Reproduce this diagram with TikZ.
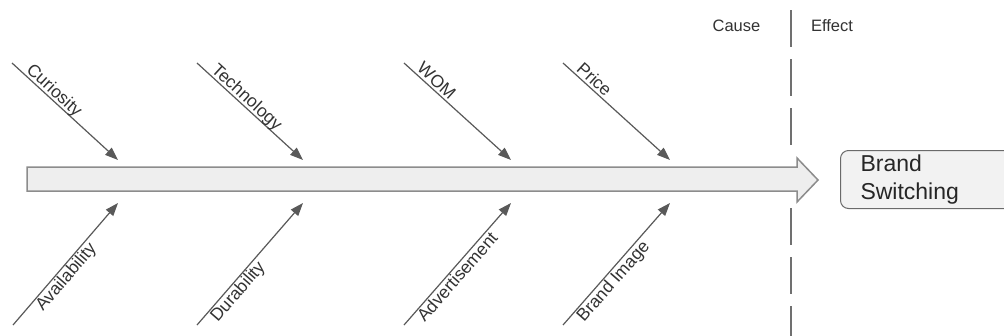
\documentclass[tikz,border=0pt]{standalone}
\usepackage{fontspec}
\setmainfont{Liberation Sans}
\usetikzlibrary{arrows.meta}
\definecolor{linegray}{HTML}{595959}
\definecolor{textgray}{HTML}{333333}
\definecolor{bodyfill}{HTML}{EEEEEE}
\definecolor{boxfill}{HTML}{F2F2F2}
\definecolor{bodyline}{HTML}{8C8C8C}
\definecolor{boxline}{HTML}{6A6A6A}
\definecolor{dashgray}{HTML}{707070}
\newcommand{\uplift}[1]{\raisebox{3pt}{#1}}
\begin{document}
\begin{tikzpicture}[x=1pt,y=-1pt,
  bone/.style={draw=linegray, line width=1.2pt, -{Triangle[length=13pt,width=9.5pt,fill=linegray]}},
  uplabel/.style={sloped, anchor=base west, inner sep=0pt, font=\fontsize{17.5}{20}\selectfont, text=textgray},
  lowlabel/.style={sloped, anchor=north west, inner sep=1pt, font=\fontsize{17.5}{20}\selectfont, text=textgray},
  sidelabel/.style={font=\fontsize{16.5}{19}\selectfont, text=textgray, inner sep=0pt},
  effectbox/.style={draw=boxline, line width=1pt, fill=boxfill, rounded corners=8pt,
    align=left, text width=160pt, inner xsep=20pt, inner ysep=0pt, minimum height=58pt,
    font=\fontsize{23}{28}\selectfont, text=black!85, anchor=north west},
  divider/.style={draw=dashgray, line width=1.3pt, dash pattern=on 37pt off 12pt}
]
\useasboundingbox (0,0) rectangle (1004,335);
\fill[white] (0,0) rectangle (1004,335);

% divider (interrupted around the spine)
\coordinate (dtop) at (791,10);
\coordinate (dmid1) at (791,146);
\coordinate (dmid2) at (791,208);
\coordinate (dbot) at (791,345);
\draw[divider] (dtop) -- (dmid1);
\draw[divider] (dmid2) -- (dbot);

% spine arrow
\draw[draw=bodyline, fill=bodyfill, line width=1.5pt, line join=miter]
  (27,167) -- (797,167) -- (797,158) -- (818,180) -- (797,202) -- (797,191) -- (27,191) -- cycle;

% effect box
\node[effectbox] (effect) at (840,150) {Brand\\Switching};

% cause / effect labels
\node[sidelabel] (cause) at (736.5,26) {Cause};
\node[sidelabel] (effl) at (832,26) {Effect};

% upper bones
\coordinate (us1) at (12,63);  \coordinate (ut1) at (118,160);
\coordinate (us2) at (197,63); \coordinate (ut2) at (303,160);
\coordinate (us3) at (404,63); \coordinate (ut3) at (511,160);
\coordinate (us4) at (563,63); \coordinate (ut4) at (670,160);
\draw[bone] (us1) -- node[uplabel,pos=0.105] (lcur) {\uplift{Curiosity}} (ut1);
\draw[bone] (us2) -- node[uplabel,pos=0.105] (ltec) {\uplift{Technology}} (ut2);
\draw[bone] (us3) -- node[uplabel,pos=0.09] (lwom) {\uplift{WOM}} (ut3);
\draw[bone] (us4) -- node[uplabel,pos=0.095] (lpri) {\uplift{Price}} (ut4);

% lower bones
\coordinate (ls1) at (13,325);  \coordinate (lt1) at (118,203);
\coordinate (ls2) at (197,325); \coordinate (lt2) at (303,203);
\coordinate (ls3) at (404,325); \coordinate (lt3) at (511,203);
\coordinate (ls4) at (563,325); \coordinate (lt4) at (670,203);
\draw[bone] (ls1) -- node[lowlabel,pos=0.175] (lava) {Availability} (lt1);
\draw[bone] (ls2) -- node[lowlabel,pos=0.085] (ldur) {Durability} (lt2);
\draw[bone] (ls3) -- node[lowlabel,pos=0.085] (ladv) {Advertisement} (lt3);
\draw[bone] (ls4) -- node[lowlabel,pos=0.088] (lbra) {Brand Image} (lt4);
\end{tikzpicture}
\end{document}
